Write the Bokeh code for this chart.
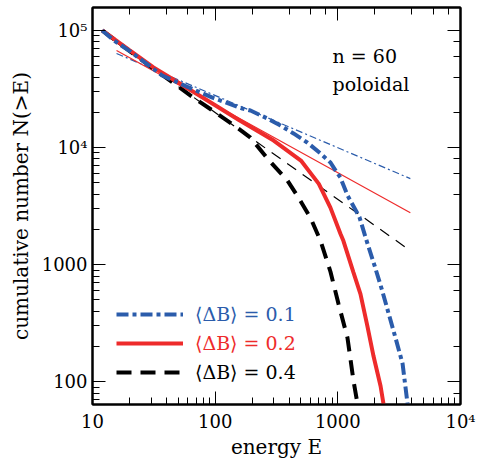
from bokeh.plotting import figure
from bokeh.models import Range1d, LogAxis, LogTicker, Legend, LegendItem, Label
from bokeh.embed import file_html
from bokeh.resources import INLINE

FONT = "DejaVu Serif"
BLUE = "#2b5cab"
RED = "#ee2b2b"
BLACK = "#000000"

# cumulative number N(>E) versus energy E for three perturbation amplitudes
blue_E = [12, 15, 20, 26, 37, 61, 95, 167, 194, 267, 341, 435, 566, 723, 871, 994,
          1050, 1200, 1500, 1700, 2000, 2300, 2600, 2950, 3370, 3700]
blue_N = [100000, 82000, 67000, 54500, 41200, 32600, 26700, 21500, 20700, 17700, 15400,
          13200, 11000, 8890, 7450, 6000, 5540, 3900, 2550, 1650, 970, 600, 380, 238, 143, 65]

red_E = [12, 20, 31.4, 50, 100, 155, 300, 500, 700, 870, 1050, 1110, 1340, 1530, 1740,
         1955, 2230, 2355]
red_N = [100000, 67900, 48300, 35900, 23000, 17300, 11480, 7740, 4900, 3070, 1840, 1600,
         860, 560, 300, 165, 92, 65]

black_E = [12, 20, 31.4, 45, 66.5, 100, 155, 194, 267, 389, 477, 600, 723, 871, 1012,
           1198, 1342, 1446]
black_N = [100000, 67000, 47300, 36000, 26700, 20000, 14500, 12170, 8050, 5220, 3740,
           2500, 1600, 870, 464, 238, 102, 65]

# power-law fits (end points)
fit_E = [15.7, 3900]
fit_blue_N = [63600, 5430]
fit_red_N = [67400, 2780]
fit_black_N = [78500, 1318]

labels = ["\u27e8\u0394B\u27e9 = 0.1", "\u27e8\u0394B\u27e9 = 0.2", "\u27e8\u0394B\u27e9 = 0.4"]
x_tick_labels = {10: "10", 100: "100", 1000: "1000", 10000: "10\u2074"}
y_tick_labels = {100: "100", 1000: "1000", 10000: "10\u2074", 100000: "10\u2075"}
blank_labels = {10: "", 100: "", 1000: "", 10000: "", 100000: ""}

p = figure(width=477, height=462, x_axis_type="log", y_axis_type="log",
           x_range=Range1d(10, 1e4), y_range=Range1d(64, 1.57e5),
           output_backend="svg", toolbar_location=None,
           min_border_left=92, min_border_right=17, min_border_top=7, min_border_bottom=58)

p.xgrid.visible = False
p.ygrid.visible = False
p.outline_line_color = "black"
p.outline_line_width = 2
p.background_fill_color = "white"
p.border_fill_color = "white"


def style_axis(ax):
    ax.major_tick_in = 13
    ax.major_tick_out = 0
    ax.minor_tick_in = 7
    ax.minor_tick_out = 0
    ax.axis_line_width = 2
    ax.major_tick_line_width = 1
    ax.minor_tick_line_width = 1
    ax.major_label_text_font = FONT
    ax.axis_label_text_font = FONT
    ax.axis_label_text_font_style = "normal"
    ax.major_label_text_font_size = "18px"
    ax.axis_label_text_font_size = "20px"
    ax.major_label_text_color = "black"
    ax.axis_label_text_color = "black"


xa = p.xaxis[0]
style_axis(xa)
xa.major_label_overrides = x_tick_labels
xa.major_label_standoff = 6
xa.axis_label = "energy E"
xa.axis_label_standoff = 0

ya = p.yaxis[0]
style_axis(ya)
ya.major_label_overrides = y_tick_labels
ya.major_label_standoff = 5
ya.axis_label = "cumulative number N(>E)"
ya.axis_label_standoff = 6

# mirrored tick marks on the top and right edges
for place in ("above", "right"):
    ax = LogAxis(ticker=LogTicker())
    style_axis(ax)
    ax.major_label_overrides = blank_labels
    ax.major_label_standoff = 0
    ax.major_label_text_font_size = "1px"
    ax.major_label_text_alpha = 0
    p.add_layout(ax, place)

# thin power-law fit lines
p.line(fit_E, fit_blue_N, line_color=BLUE, line_width=1.2, line_dash="7 3 2 3")
p.line(fit_E, fit_red_N, line_color=RED, line_width=1.2)
p.line(fit_E, fit_black_N, line_color=BLACK, line_width=1.2, line_dash="11 8")

# measured distributions
r_black = p.line(black_E, black_N, line_color=BLACK, line_width=4, line_dash="15 9")
r_red = p.line(red_E, red_N, line_color=RED, line_width=4)
r_blue = p.line(blue_E, blue_N, line_color=BLUE, line_width=4, line_dash="12 4 4 4")

for lab, r, col, yoff in [(labels[0], r_blue, BLUE, 79),
                          (labels[1], r_red, RED, 50),
                          (labels[2], r_black, BLACK, 21)]:
    lg = Legend(items=[LegendItem(label=lab, renderers=[r])], location=(24, yoff),
                glyph_width=67, glyph_height=20, label_height=20, label_standoff=12,
                label_text_font=FONT, label_text_font_size="19px", label_text_color=col,
                background_fill_alpha=0, border_line_alpha=0,
                padding=0, margin=0, spacing=0)
    p.add_layout(lg)

for txt, yv in (("n = 60", 61100), ("poloidal", 35200)):
    p.add_layout(Label(x=906, y=yv, text=txt, text_font=FONT, text_font_size="19px",
                       text_color="black", text_baseline="alphabetic"))

open("out.html", "w").write(file_html(p, INLINE))
